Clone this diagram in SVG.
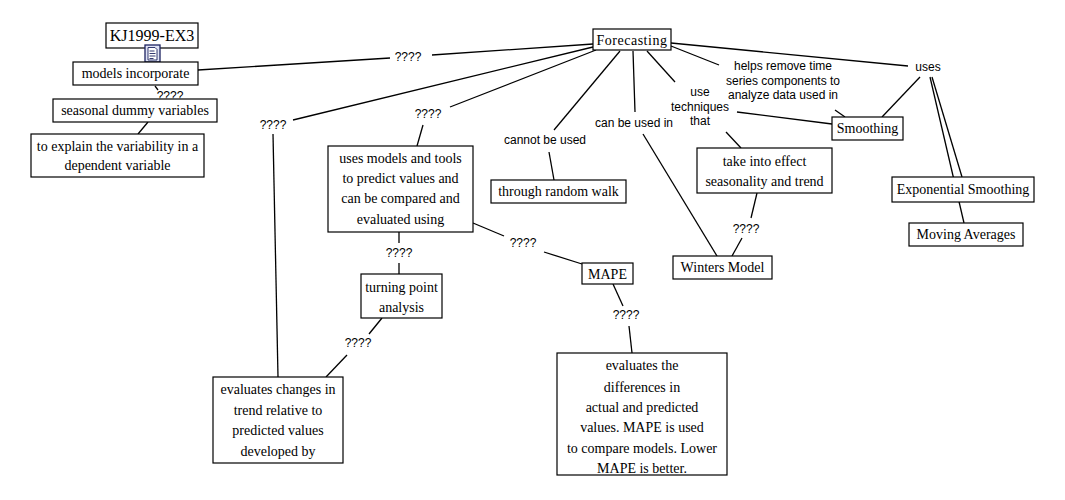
<svg xmlns="http://www.w3.org/2000/svg" width="1065" height="500" viewBox="0 0 1065 500">
<style>
.bg{fill:#fff}
.box{fill:#fff;stroke:#000;stroke-width:1.2}
.nt{font-family:"Liberation Serif","Times New Roman",serif;font-size:14px;fill:#000;text-anchor:middle}
.lt{font-family:"Liberation Sans",Arial,sans-serif;font-size:12px;fill:#000;text-anchor:middle}
.c line{stroke:#000;stroke-width:1.3}
</style>
<rect class="bg" x="0" y="0" width="1065" height="500"/>
<g id="connectors" class="c">
<line x1="593" y1="44" x2="432" y2="55"/>
<line x1="390" y1="58" x2="198" y2="70"/>
<line x1="593" y1="47" x2="293" y2="120"/>
<line x1="273" y1="134" x2="278" y2="377"/>
<line x1="596" y1="50" x2="450" y2="107"/>
<line x1="423" y1="125" x2="417" y2="146"/>
<line x1="399" y1="232" x2="399" y2="243"/>
<line x1="399" y1="263" x2="399" y2="274"/>
<line x1="382" y1="318" x2="369" y2="334"/>
<line x1="347" y1="355" x2="326" y2="377"/>
<line x1="473" y1="223" x2="504" y2="236"/>
<line x1="544" y1="252" x2="582" y2="264"/>
<line x1="613" y1="284" x2="623" y2="306"/>
<line x1="629" y1="326" x2="632" y2="353"/>
<line x1="620" y1="51" x2="554" y2="130"/>
<line x1="549" y1="152" x2="554" y2="180"/>
<line x1="633" y1="51" x2="635" y2="112"/>
<line x1="643" y1="134" x2="717" y2="256"/>
<line x1="647" y1="51" x2="675" y2="82"/>
<line x1="737" y1="112" x2="832" y2="124"/>
<line x1="726" y1="132" x2="741" y2="148"/>
<line x1="757" y1="193" x2="751" y2="218"/>
<line x1="742" y1="238" x2="732" y2="256"/>
<line x1="671" y1="46" x2="719" y2="65"/>
<line x1="835" y1="110" x2="845" y2="117"/>
<line x1="671" y1="43" x2="908" y2="66"/>
<line x1="920" y1="77" x2="882" y2="117"/>
<line x1="932" y1="77" x2="962" y2="177"/>
<line x1="930" y1="77" x2="964" y2="223"/>
<line x1="155" y1="86" x2="158" y2="90"/>
<line x1="148" y1="122" x2="138" y2="134"/>
</g>
<g id="labels">
<text class="lt" x="408" y="61">????</text>
<text class="lt" x="428" y="118">????</text>
<text class="lt" x="273" y="129">????</text>
<text class="lt" x="399" y="257">????</text>
<text class="lt" x="358" y="347">????</text>
<text class="lt" x="523" y="247">????</text>
<text class="lt" x="626" y="319">????</text>
<text class="lt" x="746" y="233">????</text>
<text class="lt" x="170" y="100">????</text>
<text class="lt" x="545" y="144">cannot be used</text>
<text class="lt" x="634" y="127">can be used in</text>
<text class="lt" x="700" y="96">use</text>
<text class="lt" x="700" y="111">techniques</text>
<text class="lt" x="700" y="125">that</text>
<text class="lt" x="783" y="70">helps remove time</text>
<text class="lt" x="783" y="85">series components to</text>
<text class="lt" x="783" y="99">analyze data used in</text>
<text class="lt" x="928" y="71">uses</text>
</g>
<g id="n-kj">
<rect class="box" x="106" y="23" width="92" height="25"/>
<text class="nt" x="152" y="41" style="font-size:16px">KJ1999-EX3</text>
</g>
<g id="n-icon">
<rect x="145" y="45" width="15" height="17" fill="#dfe3f5" stroke="#1c2260" stroke-width="1.3"/>
<path d="M148 47.5h7l2 2v10.5h-9z" fill="#fff" stroke="#1c2260" stroke-width="0.9"/>
<path d="M149.5 51h5M149.5 53.5h6M149.5 56h6M149.5 58.5h4" stroke="#1c2260" stroke-width="0.9"/>
</g>
<g id="n-models">
<rect class="box" x="73" y="62" width="125" height="23"/>
<text class="nt" x="135.5" y="78">models incorporate</text>
</g>
<g id="n-seasonal">
<rect class="box" x="53" y="99" width="164" height="23"/>
<text class="nt" x="135" y="115">seasonal dummy variables</text>
</g>
<g id="n-explain">
<rect class="box" x="31" y="134" width="173" height="43"/>
<text class="nt" x="117.5" y="151">to explain the variability in a</text>
<text class="nt" x="117.5" y="170">dependent variable</text>
</g>
<g id="n-forecasting">
<rect class="box" x="593" y="29" width="78" height="21"/>
<text class="nt" x="632" y="45" style="letter-spacing:0.5px">Forecasting</text>
</g>
<g id="n-random">
<rect class="box" x="491" y="180" width="135" height="23"/>
<text class="nt" x="558.5" y="196">through random walk</text>
</g>
<g id="n-usesmodels">
<rect class="box" x="328" y="146" width="145" height="86"/>
<text class="nt" x="400.5" y="163">uses models and tools</text>
<text class="nt" x="400.5" y="183">to predict values and</text>
<text class="nt" x="400.5" y="203">can be compared and</text>
<text class="nt" x="400.5" y="224">evaluated using</text>
</g>
<g id="n-turning">
<rect class="box" x="361" y="274" width="81" height="44"/>
<text class="nt" x="401.5" y="292">turning point</text>
<text class="nt" x="401.5" y="312">analysis</text>
</g>
<g id="n-evaluates">
<rect class="box" x="213" y="377" width="130" height="86"/>
<text class="nt" x="278" y="394">evaluates changes in</text>
<text class="nt" x="278" y="415">trend relative to</text>
<text class="nt" x="278" y="435">predicted values</text>
<text class="nt" x="278" y="456">developed by</text>
</g>
<g id="n-mape">
<rect class="box" x="582" y="263" width="51" height="21"/>
<text class="nt" x="607.5" y="279">MAPE</text>
</g>
<g id="n-mapedesc">
<rect class="box" x="557" y="353" width="170" height="122"/>
<text class="nt" x="642" y="370">evaluates the</text>
<text class="nt" x="642" y="392">differences in</text>
<text class="nt" x="642" y="412">actual and predicted</text>
<text class="nt" x="642" y="432">values. MAPE is used</text>
<text class="nt" x="642" y="453">to compare models. Lower</text>
<text class="nt" x="642" y="473">MAPE is better.</text>
</g>
<g id="n-winters">
<rect class="box" x="673" y="256" width="99" height="23"/>
<text class="nt" x="722.5" y="272">Winters Model</text>
</g>
<g id="n-effect">
<rect class="box" x="697" y="148" width="135" height="45"/>
<text class="nt" x="764.5" y="166">take into effect</text>
<text class="nt" x="764.5" y="186">seasonality and trend</text>
</g>
<g id="n-smoothing">
<rect class="box" x="832" y="117" width="71" height="23"/>
<text class="nt" x="867.5" y="133">Smoothing</text>
</g>
<g id="n-exp">
<rect class="box" x="892" y="177" width="142" height="25"/>
<text class="nt" x="963" y="194">Exponential Smoothing</text>
</g>
<g id="n-moving">
<rect class="box" x="909" y="223" width="114" height="23"/>
<text class="nt" x="966" y="239">Moving Averages</text>
</g>
</svg>
